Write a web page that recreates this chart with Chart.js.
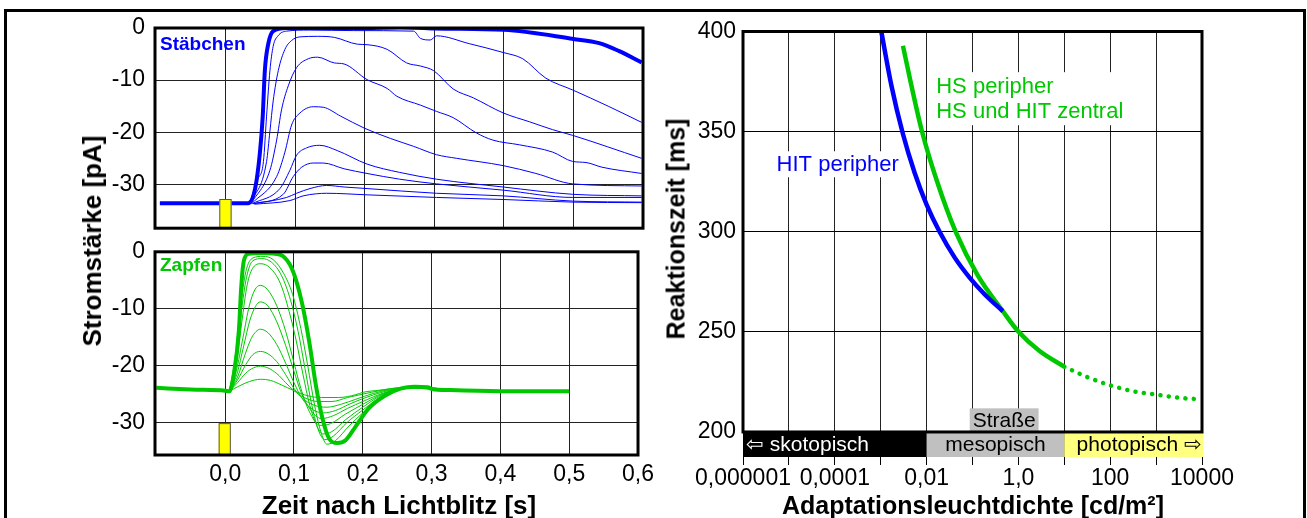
<!DOCTYPE html>
<html>
<head>
<meta charset="utf-8">
<script src="https://cdn.jsdelivr.net/npm/chart.js@4"></script>
<style>
  body { margin: 0; width: 1307px; height: 518px; overflow: hidden; position: relative; background: #fff;
         font-family: 'Liberation Sans', Arial, sans-serif; }
  #frame { position: absolute; left: 4px; top: 9px; width: 1296px; height: 600px; border: 3px solid #000; }
  canvas { position: absolute; }
  .lbl { position: absolute; white-space: nowrap; line-height: 1; font-weight: bold; }
</style>
</head>
<body>
<div id="frame"></div>
<canvas id="rods" width="660" height="252" style="left:0;top:0"></canvas>
<canvas id="cones" width="660" height="290" style="left:0;top:228px"></canvas>
<canvas id="lum" width="647" height="518" style="left:660px;top:0"></canvas>

<div class="lbl" style="left:92px;top:241px;font-size:26px;transform:translate(-50%,-50%) rotate(-90deg)">Stromstärke [pA]</div>
<div class="lbl" style="left:399px;top:505px;font-size:26px;transform:translate(-50%,-50%)">Zeit nach Lichtblitz [s]</div>
<div class="lbl" style="left:676px;top:229px;font-size:25px;transform:translate(-50%,-50%) rotate(-90deg)">Reaktionszeit [ms]</div>
<div class="lbl" style="left:973px;top:505px;font-size:25px;transform:translate(-50%,-50%)">Adaptationsleuchtdichte [cd/m²]</div>
<div class="lbl" style="left:160px;top:43px;font-size:19px;color:#0000ff;transform:translateY(-50%)">Stäbchen</div>
<div class="lbl" style="left:160px;top:264px;font-size:19px;color:#00c800;transform:translateY(-50%)">Zapfen</div>

<script>
const BLUE = '#0000ff';
const GREEN = '#00c800';

// time axis of the left panels (s)
const timeRange = [-0.102, 0.6];
const timeTicks = [0, 0.1, 0.2, 0.3, 0.4, 0.5, 0.6];
const currentTicks = [0, -10, -20, -30];
const flashWindow = [-0.0095, 0.0082];

// Staebchen (rods), [t, pA]
const rodSaturated = [[-0.095,-33.6],[0,-33.6],[0.032,-33.6],[0.042,-30.8],[0.049,-23.8],[0.053,-16.9],[0.056,-8.2],
  [0.061,-3.0],[0.068,-0.6],[0.087,0],[0.2,0],[0.25,0.2],[0.3,-0.1],[0.4,-0.35],[0.5,-2.1],[0.537,-2.9],[0.565,-4.4],[0.598,-6.6]];
const rodA = [[0.034,-33.6],[0.046,-29],[0.054,-25.6],[0.0585,-16.9],[0.0633,-8.2],[0.068,-3.5],[0.075,-1.5],[0.087,-0.6],
  [0.12,-0.4],[0.184,-0.5],[0.27,-0.6],[0.28,-2.0],[0.294,-2.3],[0.303,-1.5],[0.35,-3.0],[0.399,-4.7],[0.427,-5.9],
  [0.46,-9.6],[0.499,-11.9],[0.55,-15],[0.598,-18.1]];
const rodB = [[0.035,-33.7],[0.0585,-25.6],[0.0633,-19.8],[0.068,-14],[0.0753,-8.2],[0.0849,-4.1],[0.0945,-2.4],[0.1065,-1.7],
  [0.132,-1.6],[0.156,-1.8],[0.189,-3.1],[0.203,-3.2],[0.232,-4.1],[0.26,-6.7],[0.28,-7.3],[0.299,-8.2],[0.327,-11.7],
  [0.356,-13.4],[0.399,-16.3],[0.437,-18.0],[0.47,-19.5],[0.499,-20.6],[0.598,-25.0]];
const rodC = [[0.036,-33.7],[0.0633,-27.3],[0.073,-21.5],[0.080,-15.7],[0.0897,-11.1],[0.1017,-7.6],[0.1185,-5.9],[0.132,-5.6],
  [0.156,-6.7],[0.17,-6.9],[0.203,-9.9],[0.232,-11.6],[0.246,-13.1],[0.28,-14.8],[0.303,-16.0],[0.327,-17.2],[0.36,-20.1],
  [0.384,-21.5],[0.422,-22.4],[0.47,-23.8],[0.499,-25.6],[0.518,-25.8],[0.541,-26.7],[0.598,-27.9]];
const rodD = [[0.037,-33.7],[0.073,-28.5],[0.0849,-23.8],[0.0945,-18.6],[0.1065,-16.3],[0.1257,-15.1],[0.14,-15.2],[0.165,-16.9],
  [0.199,-19.2],[0.237,-21.2],[0.27,-22.7],[0.303,-24.3],[0.332,-25.0],[0.399,-26.4],[0.446,-27.9],[0.499,-29.9],[0.598,-30.3]];
const rodE = [[0.038,-33.7],[0.0777,-30.8],[0.092,-27.3],[0.1017,-24.4],[0.116,-23.0],[0.135,-22.5],[0.16,-23.5],[0.203,-26.1],
  [0.25,-27.7],[0.303,-29.0],[0.399,-30.5],[0.499,-31.9],[0.598,-32.2]];
const rodF = [[0.039,-33.7],[0.0825,-31.9],[0.0969,-28.5],[0.109,-26.7],[0.1257,-25.9],[0.14,-25.9],[0.17,-27],[0.203,-27.9],
  [0.25,-29],[0.303,-29.9],[0.399,-31.1],[0.499,-32.5],[0.598,-32.5]];
const rodG = [[0.04,-33.7],[0.0873,-32.5],[0.1017,-31.7],[0.121,-30.8],[0.145,-30.2],[0.17,-30.5],[0.203,-30.8],[0.303,-31.7],
  [0.399,-32.2],[0.499,-33.2],[0.598,-33.4]];
const rodH = [[0.041,-33.8],[0.092,-33.1],[0.111,-32.2],[0.13,-31.8],[0.145,-31.7],[0.203,-32.0],[0.303,-32.5],[0.4,-32.9],
  [0.5,-33.4],[0.598,-33.5]];

// Zapfen (cones), [t, pA]
const coneSaturated = [[-0.1,-23.9],[-0.05,-24.2],[0,-24.4],[0.006,-24.5],[0.013,-21.2],[0.02,-13.7],[0.0233,-6.2],[0.0271,-1.6],
  [0.0343,-0.35],[0.0557,-0.2],[0.0795,-0.5],[0.0938,-2.2],[0.1033,-5.1],[0.1129,-9.7],[0.1224,-16.0],[0.1319,-23.5],
  [0.1414,-29.3],[0.151,-32.8],[0.163,-33.6],[0.175,-33.1],[0.189,-30.8],[0.208,-27.6],[0.232,-25.3],[0.256,-24.0],
  [0.275,-23.7],[0.294,-23.8],[0.301,-24.1],[0.327,-24.3],[0.4,-24.5],[0.5,-24.5]];
const cone1 = [[0.006,-24.5],[0.014,-19],[0.022,-10],[0.03,-3.5],[0.04,-1.1],[0.055,-0.8],[0.07,-1.4],[0.085,-3.8],[0.098,-7.5],
  [0.11,-13.5],[0.12,-20],[0.13,-27],[0.14,-32],[0.148,-33.8],[0.16,-33.2],[0.18,-30.6],[0.2,-28.3],[0.23,-25.4],[0.256,-24.0],
  [0.275,-23.7],[0.3,-24.1]];
const cone2 = [[0.006,-24.5],[0.015,-19.5],[0.023,-11],[0.031,-4.5],[0.04,-1.6],[0.053,-1.2],[0.067,-1.8],[0.082,-4.2],[0.095,-8.5],
  [0.106,-14],[0.116,-20.5],[0.126,-27],[0.136,-31.5],[0.145,-33.0],[0.157,-32.4],[0.177,-30],[0.2,-27.8],[0.23,-25.2],
  [0.256,-24.0],[0.275,-23.7],[0.3,-24.1]];
const cone3 = [[0.006,-24.5],[0.016,-20],[0.024,-12.5],[0.032,-5.8],[0.041,-2.7],[0.052,-2.1],[0.065,-2.8],[0.08,-5.5],[0.093,-10.5],
  [0.103,-15.5],[0.113,-21.5],[0.123,-27],[0.133,-30.5],[0.142,-32.0],[0.155,-31.6],[0.175,-29.5],[0.2,-27.3],[0.23,-25.0],
  [0.256,-24.0],[0.275,-23.7],[0.3,-24.1]];
const cone4 = [[0.006,-24.5],[0.016,-21],[0.026,-15],[0.035,-9.5],[0.043,-6.7],[0.051,-5.9],[0.062,-6.7],[0.075,-9.5],[0.088,-14],
  [0.1,-19.5],[0.11,-24],[0.122,-28],[0.138,-30.5],[0.153,-30.2],[0.175,-28.5],[0.2,-26.8],[0.23,-24.9],[0.256,-24.0],
  [0.275,-23.7],[0.3,-24.1]];
const cone5 = [[0.006,-24.5],[0.017,-21.5],[0.027,-16.5],[0.036,-12],[0.044,-9.6],[0.051,-8.8],[0.062,-9.5],[0.075,-12.3],
  [0.088,-16.5],[0.1,-21],[0.11,-24.6],[0.123,-27.6],[0.14,-29.3],[0.157,-28.8],[0.178,-27.5],[0.2,-26.3],[0.23,-24.8],
  [0.256,-24.0],[0.275,-23.7],[0.3,-24.1]];
const cone6 = [[0.006,-24.5],[0.018,-22],[0.029,-18],[0.038,-15.2],[0.045,-14],[0.051,-13.6],[0.062,-14.2],[0.075,-16.3],
  [0.088,-19.6],[0.1,-23],[0.112,-25.8],[0.127,-27.7],[0.143,-28.3],[0.16,-27.9],[0.18,-26.8],[0.2,-25.8],[0.23,-24.6],
  [0.256,-23.9],[0.275,-23.7],[0.3,-24.1]];
const cone7 = [[0.006,-24.5],[0.018,-22.5],[0.03,-19.8],[0.04,-18.1],[0.051,-17.5],[0.062,-17.9],[0.075,-19.3],[0.088,-21.6],
  [0.1,-24],[0.113,-25.8],[0.13,-27],[0.148,-27.3],[0.168,-26.8],[0.19,-25.9],[0.215,-24.9],[0.24,-24.2],[0.265,-23.8],[0.3,-24.1]];
const cone8 = [[0.006,-24.5],[0.018,-23],[0.03,-21.3],[0.041,-20.4],[0.051,-20.1],[0.062,-20.4],[0.075,-21.4],[0.088,-23],
  [0.1,-24.4],[0.115,-25.6],[0.135,-26.3],[0.155,-26.3],[0.178,-25.6],[0.2,-25.0],[0.225,-24.4],[0.255,-23.9],[0.3,-24.1]];
const cone9 = [[0.006,-24.5],[0.02,-23.6],[0.035,-22.8],[0.051,-22.4],[0.066,-22.6],[0.082,-23.4],[0.1,-24.4],[0.12,-25.3],
  [0.14,-25.6],[0.165,-25.6],[0.19,-25.1],[0.2,-24.7],[0.225,-24.3],[0.255,-23.9],[0.3,-24.1]];

// right panel: reaction time (ms) over adaptation luminance (cd/m2)
const lumTicks = [1e-6, 1e-5, 1e-4, 1e-3, 1e-2, 1e-1, 1, 10, 100, 1000, 10000];
const lumTickLabels = ['0,000001', '', '0,0001', '', '0,01', '', '1,0', '', '100', '', '10000'];
const rtTicks = [200, 250, 300, 350, 400];
const hitPeripher = [[0.00103,400],[0.00171,373],[0.00301,349.3],[0.00548,329.5],[0.01,313.6],[0.0192,300],[0.0407,287.2],
  [0.0865,277.1],[0.183,268.8],[0.459,260.3]];
const hsZentral = [[0.00305,392.9],[0.00449,374.8],[0.0079,350.3],[0.0165,325.8],[0.0429,300],[0.129,278.3],[0.459,260.3],
  [1.01,250],[2.89,240.4],[10,232.6]];
const hsPhotopisch = [[10,232.6],[31,227.5],[100,223.3],[324,220.3],[1000,218.7],[3390,217],[10000,216.3]];
const zoneEdges = [1e-6, 0.01, 10, 10000];
const zoneNames = ['\u21e6 skotopisch', 'mesopisch', 'photopisch \u21e8'];
const zoneColors = ['#000000', '#c0c0c0', '#ffff80'];
const strasse = [0.087, 2.75, 211.8];

const FONT = "'Liberation Sans', Arial, sans-serif";
Chart.defaults.font.family = FONT;
Chart.defaults.font.size = 23;
Chart.defaults.color = '#000';
const TICK_FONT = { family: FONT, size: 23 };

function curve(points, color, width, extra) {
  return Object.assign({
    data: points.map(p => ({ x: p[0], y: p[1] })),
    borderColor: color,
    borderWidth: width,
    pointRadius: 0,
    fill: false,
    cubicInterpolationMode: 'monotone'
  }, extra || {});
}

function timeAxis(showLabels) {
  return {
    type: 'linear', min: timeRange[0], max: timeRange[1],
    afterBuildTicks: s => { s.ticks = timeTicks.map(v => ({ value: v })); },
    afterFit: s => { s.height = showLabels ? 63 : 0; },
    border: { display: false },
    grid: { color: '#222', lineWidth: 1, drawTicks: false },
    ticks: { display: showLabels, autoSkip: false, maxRotation: 0, padding: 6, font: TICK_FONT,
             callback: v => v.toFixed(1).replace('.', ',') }
  };
}

function currentAxis(min) {
  return {
    type: 'linear', min: min, max: 0,
    afterBuildTicks: s => { s.ticks = currentTicks.map(v => ({ value: v })); },
    afterFit: s => { s.width = 155; },
    border: { display: false },
    grid: { color: '#222', lineWidth: 1, drawTicks: false },
    ticks: { padding: 10, autoSkip: false, font: TICK_FONT, callback: v => String(v) }
  };
}

const framePlugin = {
  id: 'frame',
  afterDraw(chart) {
    const { ctx, chartArea: a, scales: { y } } = chart;
    const bottom = chart.canvas.id === 'lum' ? y.getPixelForValue(rtTicks[0]) : a.bottom;
    ctx.save();
    ctx.strokeStyle = '#000';
    ctx.lineWidth = 3;
    ctx.strokeRect(a.left, a.top, a.right - a.left, bottom - a.top);
    ctx.restore();
  }
};

function flashPlugin(topValue) {
  return {
    id: 'flash',
    afterDatasetsDraw(chart) {
      const { ctx, chartArea: a, scales: { x, y } } = chart;
      const l = x.getPixelForValue(flashWindow[0]);
      const r = x.getPixelForValue(flashWindow[1]);
      const t = y.getPixelForValue(topValue);
      ctx.save();
      ctx.fillStyle = '#ffff00';
      ctx.strokeStyle = '#555';
      ctx.lineWidth = 1;
      ctx.fillRect(l, t, r - l, a.bottom - t);
      ctx.strokeRect(l + 0.5, t + 0.5, r - l - 1, a.bottom - t - 1);
      ctx.restore();
    }
  };
}

const commonPlugins = { legend: { display: false }, tooltip: { enabled: false } };

new Chart(document.getElementById('rods'), {
  type: 'line',
  data: {
    datasets: [curve(rodSaturated, BLUE, 4)].concat(
      [rodA, rodB, rodC, rodD, rodE, rodF, rodG, rodH].map(c => curve(c, BLUE, 1)))
  },
  options: {
    responsive: false, animation: false,
    layout: { padding: { top: 28, right: 17, bottom: 3, left: 0 } },
    plugins: commonPlugins,
    scales: { x: timeAxis(false), y: currentAxis(-38.4) }
  },
  plugins: [framePlugin, flashPlugin(-32.8)]
});

new Chart(document.getElementById('cones'), {
  type: 'line',
  data: {
    datasets: [curve(coneSaturated, GREEN, 4)].concat(
      [cone1, cone2, cone3, cone4, cone5, cone6, cone7, cone8, cone9].map(c => curve(c, GREEN, 1)))
  },
  options: {
    responsive: false, animation: false,
    layout: { padding: { top: 21, right: 17, bottom: 0, left: 0 } },
    plugins: commonPlugins,
    scales: { x: timeAxis(true), y: currentAxis(-35.7) }
  },
  plugins: [framePlugin, flashPlugin(-30.1)]
});

const zonePlugin = {
  id: 'zones',
  beforeDatasetsDraw(chart) {
    const { ctx, chartArea: a, scales: { x, y } } = chart;
    const yb = y.getPixelForValue(rtTicks[0]);
    const mid = (yb + a.bottom) / 2;
    ctx.save();
    ctx.font = '21px ' + FONT;
    ctx.textBaseline = 'middle';
    for (let i = 0; i < zoneNames.length; i++) {
      const l = x.getPixelForValue(zoneEdges[i]);
      const r = x.getPixelForValue(zoneEdges[i + 1]);
      ctx.fillStyle = zoneColors[i];
      ctx.fillRect(l, yb, r - l + (i === 2 ? 1.5 : 0), a.bottom - yb);
      ctx.fillStyle = i === 0 ? '#fff' : '#000';
      if (i === 0) { ctx.textAlign = 'left'; ctx.fillText(zoneNames[i], l + 3, mid + 1); }
      else if (i === 1) { ctx.textAlign = 'center'; ctx.fillText(zoneNames[i], (l + r) / 2, mid + 1); }
      else { ctx.textAlign = 'right'; ctx.fillText(zoneNames[i], r, mid + 1); }
    }
    // Strasse box above the mesopic band
    const sl = x.getPixelForValue(strasse[0]);
    const sr = x.getPixelForValue(strasse[1]);
    const st = y.getPixelForValue(strasse[2]);
    ctx.fillStyle = '#c0c0c0';
    ctx.fillRect(sl, st, sr - sl, yb - st);
    ctx.fillStyle = '#000';
    ctx.textAlign = 'center';
    ctx.fillText('Straße', (sl + sr) / 2, (st + yb) / 2 + 1);

    // curve labels on white boxes
    ctx.font = '22px ' + FONT;
    ctx.textAlign = 'left';
    const hsLines = ['HS peripher', 'HS und HIT zentral'];
    const hx = x.getPixelForValue(0.0162);
    const hy = [y.getPixelForValue(372.7), y.getPixelForValue(360.2)];
    const hw = Math.max(...hsLines.map(t => ctx.measureText(t).width));
    ctx.fillStyle = '#fff';
    ctx.fillRect(hx - 5, hy[0] - 14, hw + 10, hy[1] - hy[0] + 28);
    ctx.fillStyle = GREEN;
    hsLines.forEach((t, i) => ctx.fillText(t, hx, hy[i] + 1));

    const bx = x.getPixelForValue(5.4e-6);
    const by = y.getPixelForValue(333.7);
    const bw = ctx.measureText('HIT peripher').width;
    ctx.fillStyle = '#fff';
    ctx.fillRect(bx - 4, by - 13, bw + 8, 26);
    ctx.fillStyle = BLUE;
    ctx.fillText('HIT peripher', bx, by + 1);
    ctx.restore();
  }
};

new Chart(document.getElementById('lum'), {
  type: 'line',
  data: {
    datasets: [
      curve(hitPeripher, BLUE, 4.5),
      curve(hsZentral, GREEN, 4.5),
      curve(hsPhotopisch, GREEN, 4.5, { borderDash: [0.1, 8.3], borderCapStyle: 'round' })
    ]
  },
  options: {
    responsive: false, animation: false,
    layout: { padding: { top: 31.5, right: 105, bottom: 0, left: 0 } },
    plugins: commonPlugins,
    scales: {
      x: {
        type: 'logarithmic', min: lumTicks[0], max: lumTicks[lumTicks.length - 1],
        afterBuildTicks: s => { s.ticks = lumTicks.map(v => ({ value: v })); },
        afterFit: s => { s.height = 61; },
        border: { display: false },
        grid: { color: '#222', lineWidth: 1, drawTicks: true, tickLength: 8, tickColor: '#000' },
        ticks: { autoSkip: false, maxRotation: 0, padding: 0, font: TICK_FONT, callback: (v, i) => lumTickLabels[i] }
      },
      y: {
        type: 'linear', min: 187.5, max: 400,
        afterBuildTicks: s => { s.ticks = rtTicks.map(v => ({ value: v })); },
        afterFit: s => { s.width = 83; },
        border: { display: false },
        grid: { color: '#000', lineWidth: 1, drawTicks: false },
        ticks: { padding: 7, font: TICK_FONT, callback: v => String(v) }
      }
    }
  },
  plugins: [zonePlugin, framePlugin]
});
</script>
</body>
</html>
